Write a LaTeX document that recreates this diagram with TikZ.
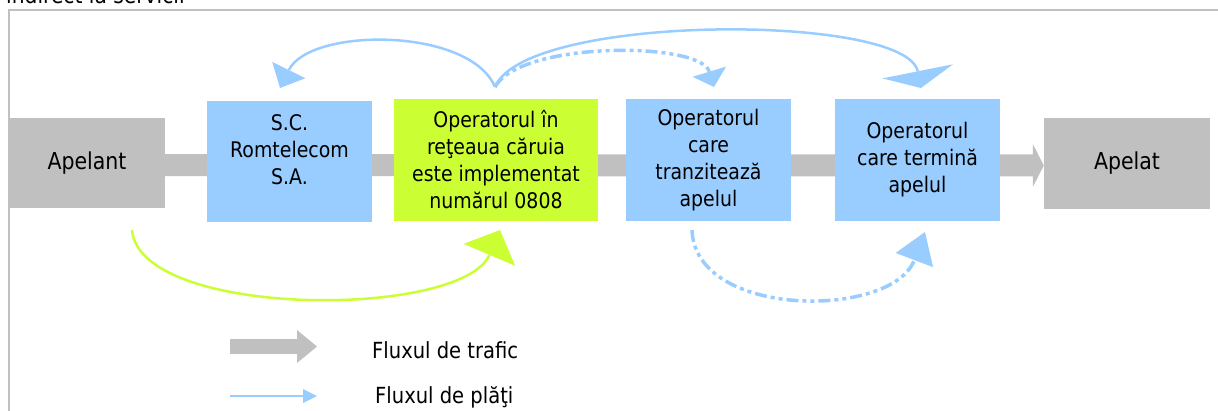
\documentclass[tikz,border=0pt]{standalone}
\usepackage{fontspec}
\setmainfont{DejaVu Sans}[FakeStretch=0.88]
\usetikzlibrary{arrows.meta,backgrounds}
\definecolor{payblue}{HTML}{99CCFF}
\definecolor{limeg}{HTML}{CCFF33}
\definecolor{lgray}{HTML}{C0C0C0}
\begin{document}
\begin{tikzpicture}[x=1pt,y=-1pt,
  flowbox/.style={inner sep=0pt, align=center, font=\fontsize{21.5pt}{27pt}\selectfont},
  endbox/.style={inner sep=0pt, align=center, font=\fontsize{23.3pt}{28pt}\selectfont},
  txt/.style={inner sep=0pt, align=center, font=\fontsize{21.5pt}{27pt}\selectfont},
  legtxt/.style={inner sep=0pt, anchor=base west, font=\fontsize{22.2pt}{26pt}\selectfont},
  pay/.style={draw=payblue, line width=2.5pt},
  paydash/.style={draw=payblue, line width=3.5pt, dash pattern=on 12pt off 4pt on 4pt off 4pt on 4pt off 4pt},
  traffic/.style={draw=lgray}
]
\useasboundingbox (0,0) rectangle (1218,410);

% frame
\draw[lgray, line width=2pt] (9,430) -- (9,10) -- (1240,10);
\node[anchor=base west, inner sep=0pt, font=\fontsize{23pt}{28pt}\selectfont] (title) at (6,3) {indirect la servicii};

% boxes
\node[endbox, fill=lgray, minimum width=156pt, minimum height=90pt] (apelant) at (87,163) {Apelant};
\node[flowbox, fill=payblue, minimum width=165pt, minimum height=121pt] (rom) at (289.5,161.5) {};
\node[txt] (romtxt) at ([yshift=12pt]rom.center) {S.C.\\Romtelecom\\S.A.};
\node[flowbox, fill=limeg, minimum width=204pt, minimum height=122pt] (impl) at (496,160) {Operatorul în\\reţeaua căruia\\este implementat\\numărul 0808};
\node[flowbox, fill=payblue, minimum width=165pt, minimum height=122pt] (tranz) at (708.5,160) {Operatorul\\care\\tranzitează\\apelul};
\node[flowbox, fill=payblue, minimum width=165pt, minimum height=122pt] (term) at (917.5,160) {Operatorul\\care termină\\apelul};
\node[endbox, fill=lgray, minimum width=166pt, minimum height=91pt] (apelat) at (1127,163.5) {Apelat};

% traffic flow behind the boxes
\begin{scope}[on background layer]
\draw[traffic, line width=22pt, -{Triangle[length=11pt,width=43pt,line width=0pt]}] ([yshift=-2pt]apelant.east) -- ([yshift=-2pt]apelat.west);
\end{scope}

% payment flows
\coordinate (src) at (495,87);
\coordinate (romin) at (280,88);
\coordinate (termin) at (921,88);
\coordinate (tranzin) at (714,87);
\draw[pay, -{Triangle[length=20pt,width=37pt,line width=0pt]}] (src) .. controls (470,27) and (310,27) .. (romin);
\draw[pay, -{Triangle[length=17pt,width=72pt,line width=0pt]}] (src) .. controls (525,13) and (906,13) .. (termin);
\draw[paydash, -{Triangle[length=16pt,width=35pt,line width=0pt]}] (src) .. controls (520,41) and (700,41) .. (tranzin);

\coordinate (gstart) at (132,230);
\coordinate (gend) at (500,230);
\draw[draw=limeg, line width=2.5pt, -{Triangle[length=27pt,width=56pt,line width=0pt]}] (gstart) .. controls (140,319) and (462,319) .. (gend);

\coordinate (tstart) at (692,230);
\coordinate (tend) at (925,232);
\draw[paydash, -{Triangle[length=30pt,width=40pt,line width=0pt]}] (tstart) .. controls (695,319) and (892,319) .. (tend);

% legend
\coordinate (lg1a) at (230,346.5);
\coordinate (lg1b) at (317,346.5);
\draw[traffic, line width=15pt, -{Triangle[length=20pt,width=33pt,line width=0pt]}] (lg1a) -- (lg1b);
\node[legtxt] (lgtraf) at (372,358) {Fluxul de trafic};
\coordinate (lg2a) at (230,396);
\coordinate (lg2b) at (317,396);
\draw[pay, line width=2pt, -{Triangle[length=14pt,width=14pt,line width=0pt]}] (lg2a) -- (lg2b);
\node[legtxt] (lgpay) at (375,403) {Fluxul de plăţi};
\end{tikzpicture}
\end{document}
